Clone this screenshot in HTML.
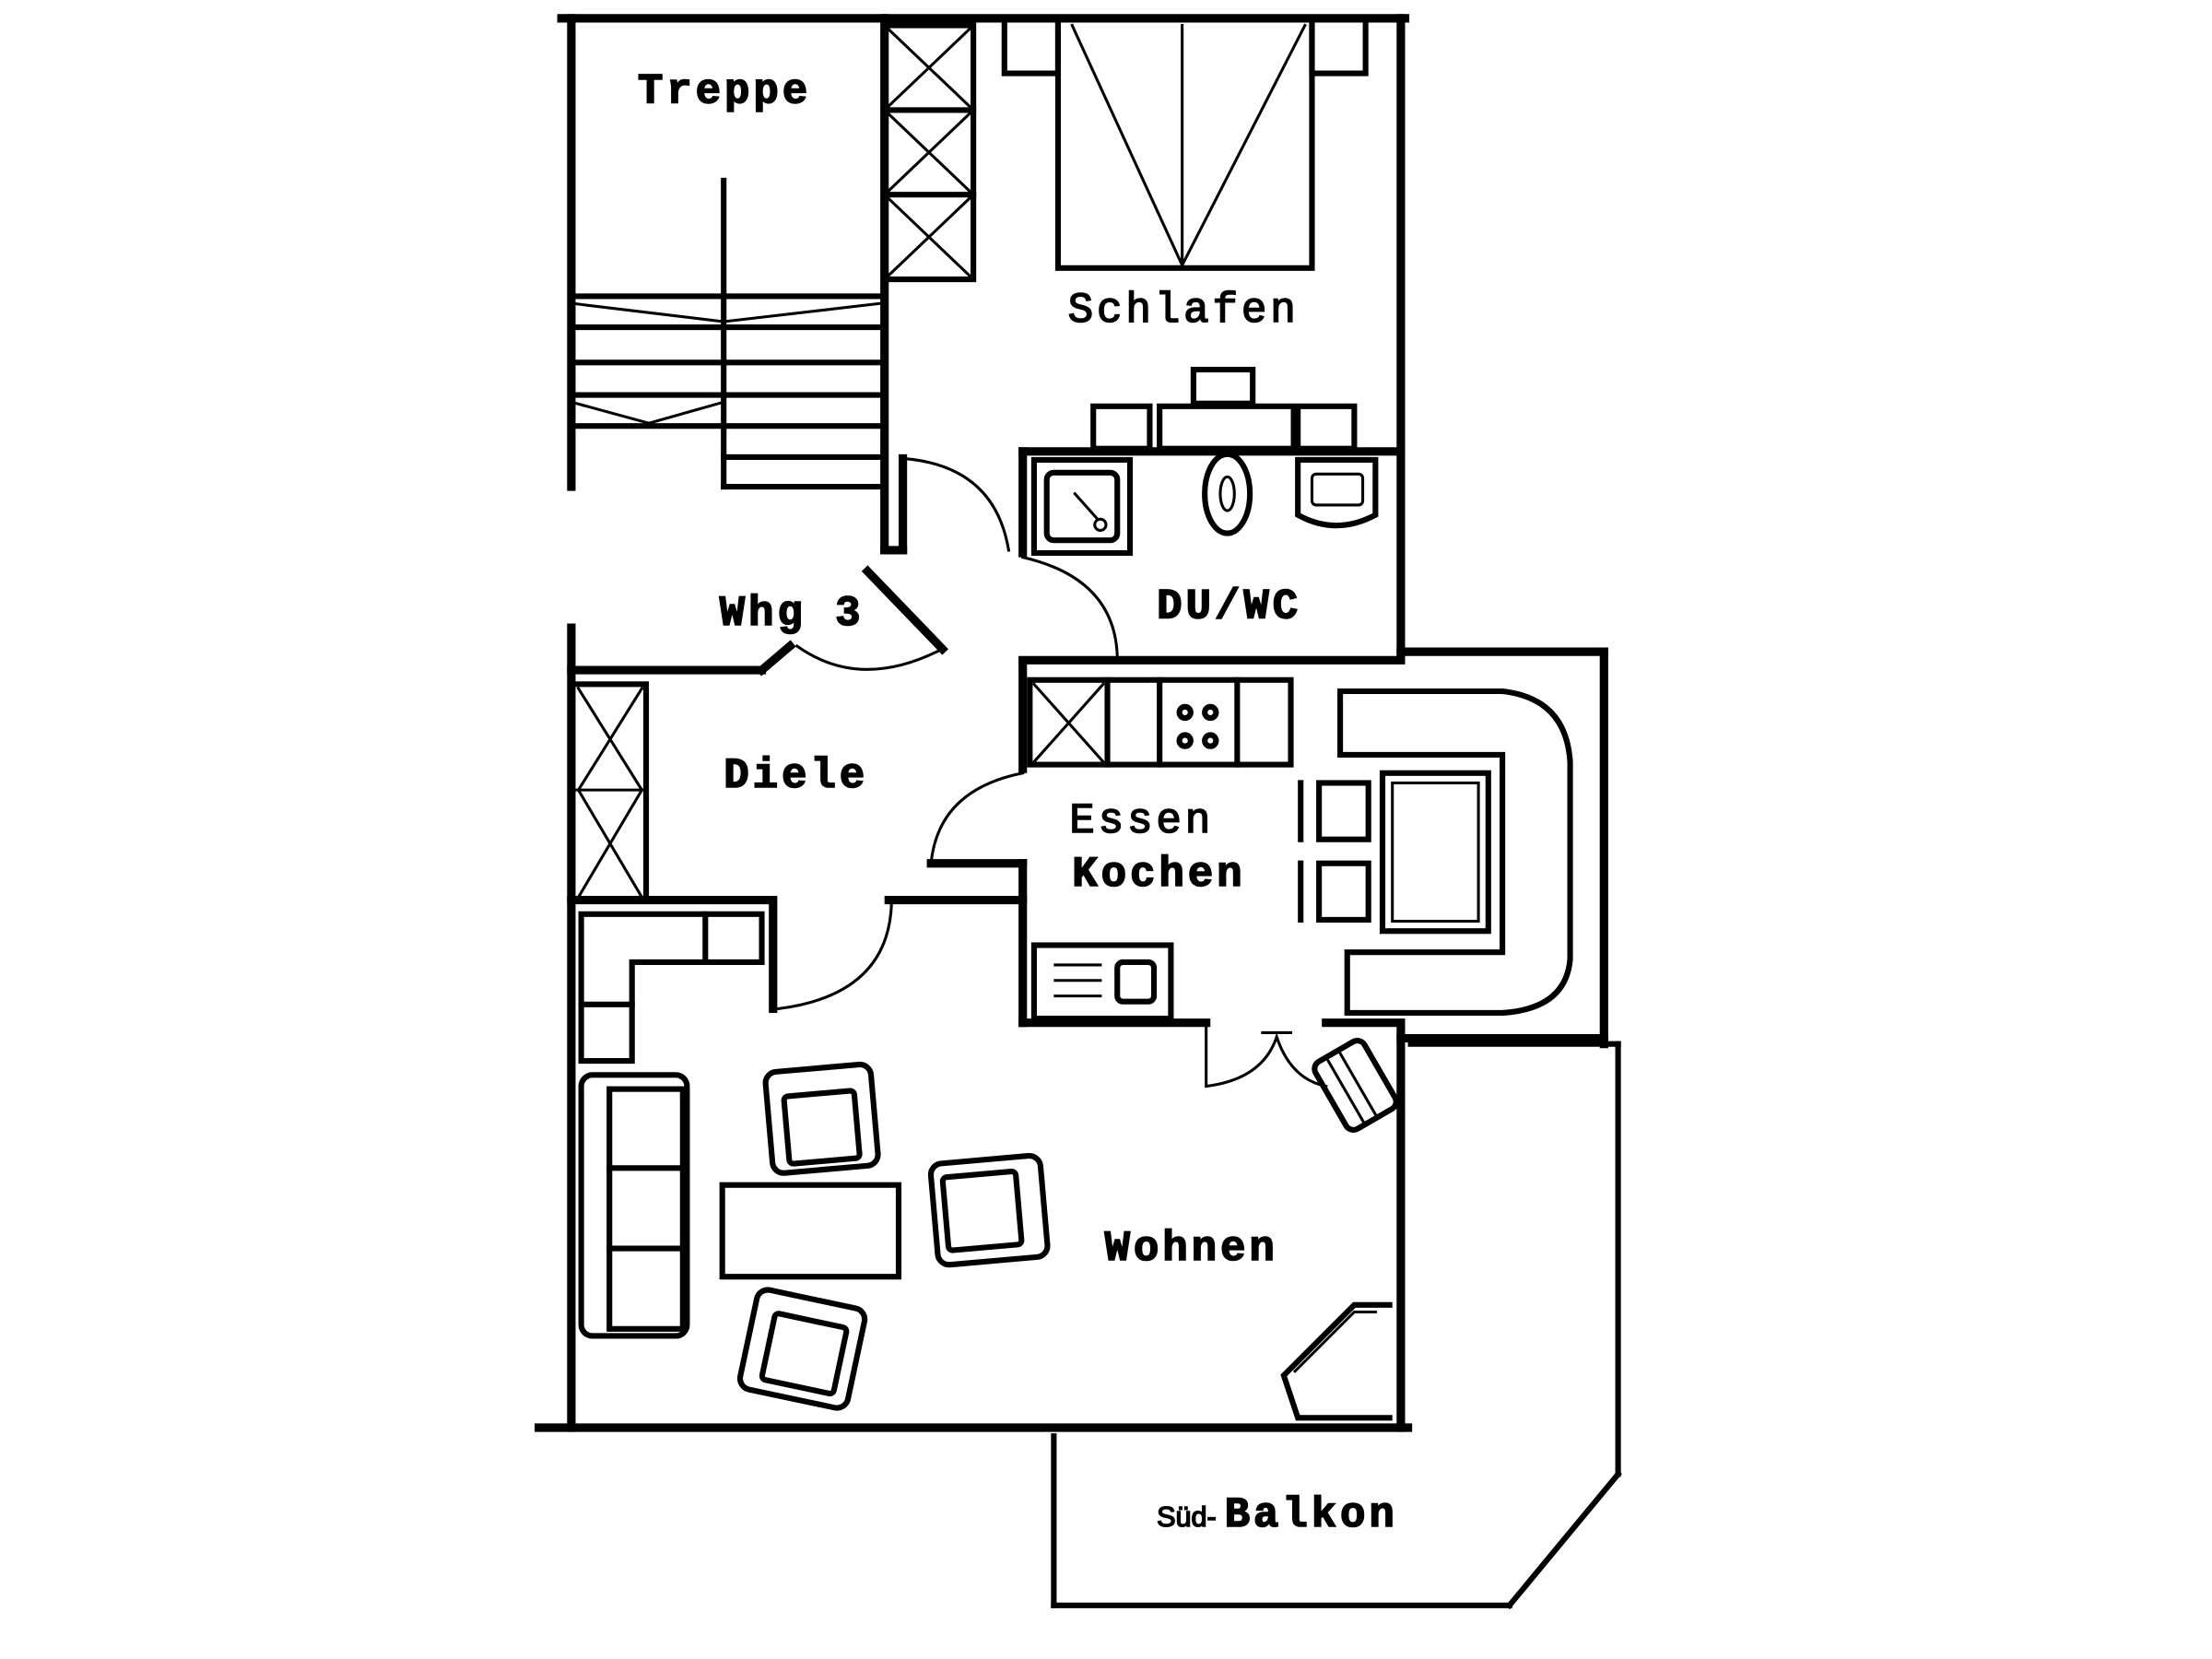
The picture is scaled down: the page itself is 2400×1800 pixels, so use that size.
<!DOCTYPE html>
<html><head><meta charset="utf-8"><style>
html,body{margin:0;padding:0;background:#fff;width:2400px;height:1800px;overflow:hidden}
svg{display:block}
text{font-family:"Liberation Mono",monospace;font-weight:bold;fill:#000;letter-spacing:2.5px}
</style></head><body>
<svg width="2400" height="1800" viewBox="0 0 1568 1176" xmlns="http://www.w3.org/2000/svg">
<g stroke="#000" fill="none" stroke-linecap="square">
<g stroke-width="6">
<line x1="398" y1="13" x2="996" y2="13"/>
<line x1="405" y1="13" x2="405" y2="345"/>
<line x1="405" y1="445" x2="405" y2="1012"/>
<line x1="993" y1="13" x2="993" y2="466"/>
<line x1="993" y1="730" x2="993" y2="1012"/>
<line x1="382" y1="1012" x2="998" y2="1012"/>
<line x1="993" y1="462" x2="1137" y2="462"/>
<line x1="1137" y1="462" x2="1137" y2="740"/>
<line x1="993" y1="736" x2="1137" y2="736"/>
<line x1="627" y1="13" x2="627" y2="390"/>
<line x1="627" y1="390" x2="640" y2="390"/>
<line x1="640" y1="325" x2="640" y2="390"/>
<line x1="615" y1="405" x2="668" y2="460"/>
<line x1="405" y1="475" x2="540" y2="475"/>
<line x1="540" y1="475" x2="560" y2="458"/>
<line x1="405" y1="638" x2="545" y2="638"/>
<line x1="548" y1="638" x2="548" y2="715"/>
<line x1="630" y1="638" x2="725" y2="638"/>
<line x1="725" y1="470" x2="725" y2="545"/>
<line x1="725" y1="612" x2="725" y2="725"/>
<line x1="725" y1="468" x2="993" y2="468"/>
<line x1="725" y1="320" x2="725" y2="392"/>
<line x1="725" y1="320" x2="993" y2="320"/>
<line x1="725" y1="725" x2="855" y2="725"/>
<line x1="940" y1="725" x2="993" y2="725"/>
<line x1="660" y1="612" x2="725" y2="612"/>
</g>
<g stroke-width="4">
<line x1="747" y1="1018" x2="747" y2="1138"/>
<line x1="747" y1="1138" x2="1070" y2="1138"/>
<line x1="1070" y1="1138" x2="1147" y2="1045"/>
<line x1="1147" y1="740" x2="1147" y2="1045"/>
<line x1="1000" y1="740" x2="1147" y2="740"/>
</g>
<g stroke-width="4">
<rect x="627" y="18" width="63" height="180"/>
<line x1="627" y1="78" x2="690" y2="78"/><line x1="627" y1="138" x2="690" y2="138"/>
<path d="M627 18 L690 78 M690 18 L627 78 M627 78 L690 138 M690 78 L627 138 M627 138 L690 198 M690 138 L627 198" stroke-width="2"/>
<line x1="513" y1="128" x2="513" y2="345"/>
<line x1="405" y1="210" x2="625" y2="210"/>
<line x1="405" y1="232" x2="625" y2="232"/>
<line x1="405" y1="257" x2="625" y2="257"/>
<line x1="405" y1="280" x2="625" y2="280"/>
<line x1="405" y1="302" x2="625" y2="302"/>
<line x1="513" y1="324" x2="625" y2="324"/>
<line x1="513" y1="345" x2="625" y2="345"/>
<path d="M405 215 L513 228 L625 215" stroke-width="2"/>
<path d="M405 285 L460 300 L513 285" stroke-width="2"/>
<rect x="750" y="14" width="180" height="176"/>
<rect x="712" y="14" width="38" height="38"/><rect x="930" y="14" width="38" height="38"/>
<path d="M760 18 L838 188 L925 18 M838 18 L838 188" stroke-width="2"/>
<rect x="822" y="288" width="95" height="30"/>
<rect x="775" y="288" width="40" height="30"/><rect x="920" y="288" width="40" height="30"/>
<rect x="846" y="262" width="42" height="24"/>
<rect x="733" y="326" width="68" height="66"/>
<rect x="742" y="335" width="50" height="48" rx="5"/>
<line x1="762" y1="350" x2="778" y2="368" stroke-width="2"/><circle cx="780" cy="372" r="4" stroke-width="2"/>
<ellipse cx="870" cy="350" rx="16" ry="28"/><ellipse cx="870" cy="350" rx="5" ry="12" stroke-width="2"/>
<path d="M920 326 L975 326 L975 365 Q947 380 920 365 Z"/><rect x="930" y="336" width="36" height="22" rx="3" stroke-width="2"/>
<path d="M640 325 Q705 330 715 390" stroke-width="2"/>
<path d="M725 395 Q790 410 792 465" stroke-width="2"/>
<path d="M668 460 Q610 490 565 458" stroke-width="2"/>
<path d="M725 548 Q665 560 660 612" stroke-width="2"/>
<path d="M632 640 Q630 705 552 715" stroke-width="2"/>
<path d="M855 725 L855 770 Q895 765 905 735 Q915 765 940 770" stroke-width="2"/>
<line x1="895" y1="732" x2="915" y2="732" stroke-width="2"/>
<rect x="405" y="485" width="53" height="153"/>
<line x1="405" y1="560" x2="458" y2="560" stroke-width="2"/>
<path d="M410 488 L455 560 L410 636 M455 488 L410 560 L455 636" stroke-width="2"/>
<rect x="730" y="482" width="185" height="60"/>
<line x1="785" y1="482" x2="785" y2="542"/><line x1="822" y1="482" x2="822" y2="542"/><line x1="877" y1="482" x2="877" y2="542"/>
<path d="M733 485 L782 540 M782 485 L733 540" stroke-width="2"/>
<circle cx="840" cy="505" r="4"/><circle cx="858" cy="505" r="4"/><circle cx="840" cy="525" r="4"/><circle cx="858" cy="525" r="4"/>
<rect x="733" y="670" width="97" height="52"/>
<rect x="792" y="682" width="26" height="28" rx="4"/>
<path d="M748 684 L780 684 M748 695 L780 695 M748 706 L780 706" stroke-width="2"/>
<path d="M950 490 L1065 490 Q1110 495 1113 540 L1113 680 Q1110 715 1065 718 L955 718 L955 675 L1065 675 L1065 535 L950 535 Z"/>
<rect x="980" y="548" width="75" height="112"/><rect x="987" y="555" width="61" height="98" stroke-width="2"/>
<rect x="935" y="555" width="35" height="40"/><rect x="935" y="612" width="35" height="40"/>
<line x1="922" y1="555" x2="922" y2="595"/><line x1="922" y1="612" x2="922" y2="652"/>
<path d="M412 648 L540 648 L540 682 L448 682 L448 752 L412 752 Z"/>
<line x1="500" y1="648" x2="500" y2="682"/><line x1="412" y1="712" x2="448" y2="712"/>
<rect x="412" y="762" width="75" height="185" rx="8"/>
<rect x="432" y="772" width="52" height="170"/>
<line x1="432" y1="828" x2="484" y2="828"/><line x1="432" y1="885" x2="484" y2="885"/>
<rect x="512" y="840" width="125" height="65"/>
<g transform="rotate(-5 583 793)"><rect x="545" y="757" width="75" height="72" rx="8"/><rect x="557" y="775" width="50" height="48" rx="3"/></g>
<g transform="rotate(-5 700 856)"><rect x="662" y="822" width="78" height="72" rx="8"/><rect x="670" y="832" width="52" height="52" rx="3"/></g>
<g transform="rotate(12 568 955)"><rect x="530" y="920" width="78" height="72" rx="8"/><rect x="545" y="935" width="52" height="48" rx="3"/></g>
<g transform="rotate(-30 960 768)"><rect x="940" y="742" width="40" height="55" rx="6"/><line x1="952" y1="745" x2="952" y2="795" stroke-width="2"/><line x1="962" y1="745" x2="962" y2="795" stroke-width="2"/></g>
<path d="M985 925 L960 925 L910 975 L920 1005 L985 1005" />
<path d="M975 930 L960 930 L918 972" stroke-width="2"/>
</g>
<g font-size="30">
<text x="452" y="73">Treppe</text>
<text x="757" y="228" style="font-weight:normal">Schlafen</text>
<text x="510" y="443">Whg 3</text>
<text x="820" y="438">DU/WC</text>
<text x="513" y="558">Diele</text>
<text x="758" y="590" style="font-weight:normal">Essen</text>
<text x="760" y="628">Kochen</text>
<text x="783" y="893">Wohnen</text>
<text x="868" y="1082">Balkon</text>
</g>
<text x="820" y="1082" style="font-family:'Liberation Sans',sans-serif;font-weight:normal;letter-spacing:0" font-size="20">Süd-</text>
</svg>
</body></html>
